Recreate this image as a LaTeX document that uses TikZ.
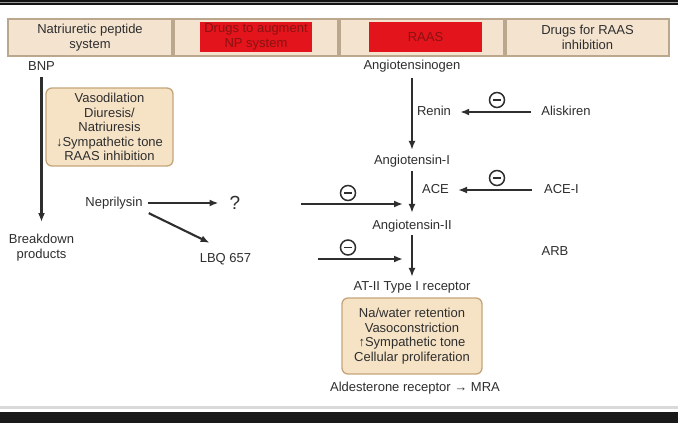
\documentclass[tikz,border=0pt]{standalone}
\usepackage{fontspec}
\setmainfont{Liberation Sans}
\usetikzlibrary{arrows.meta}
\definecolor{ink}{HTML}{2E2E2E}
\definecolor{hdrfill}{HTML}{F4E4CF}
\definecolor{hdrline}{HTML}{BBA78E}
\definecolor{boxfill}{HTML}{F6E3C6}
\definecolor{boxline}{HTML}{C4A57A}
\definecolor{redfill}{HTML}{E3141C}
\definecolor{redtext}{HTML}{8A1212}
\begin{document}
\begin{tikzpicture}[x=1pt,y=-1pt,
  every node/.style={text=ink, font=\fontsize{13}{14.5}\selectfont},
  lbl/.style={inner sep=0pt, text height=9.3pt, text depth=2.6pt},
  ml/.style={inner sep=0pt, align=center},
  hdr/.style={draw=hdrline, fill=hdrfill, line width=1.3pt, inner sep=0pt, align=center, minimum height=37pt},
  redbox/.style={fill=redfill, inner sep=0pt, align=center, minimum height=30pt, text=redtext},
  effbox/.style={draw=boxline, fill=boxfill, line width=1.3pt, rounded corners=6pt, inner sep=0pt, align=center},
  arr/.style={draw=ink, line width=2.1pt, -{Latex[length=9pt,width=7pt]}},
  inhib/.style={circle, draw=ink, line width=1.5pt, minimum size=15pt, inner sep=0pt,
    path picture={\draw[ink, line width=1.6pt] ([xshift=-3.8pt]path picture bounding box.center) -- ([xshift=3.8pt]path picture bounding box.center);}}
]
\useasboundingbox (0,0) rectangle (678,423);
\fill[white] (0,0) rectangle (678,423);
% frame
\fill[black!92] (0,0) rectangle (678,5);
\draw[black!40, line width=0.8pt] (0,2.6) -- (678,2.6);
\fill[black!15] (0,406) rectangle (678,409);
\fill[black!90] (0,412) rectangle (678,423);

% headers
\node[hdr, minimum width=164pt] (h1) at (90,37.5) {Natriuretic peptide\\system};
\node[hdr, minimum width=164pt] (h2) at (256,37.5) {};
\node[hdr, minimum width=164pt] (h3) at (422,37.5) {};
\node[hdr, minimum width=163pt] (h4) at (587.5,37.5) {Drugs for RAAS\\inhibition};
\node[redbox, minimum width=112pt] (r2) at (256,37) {Drugs to augment\\NP system};
\node[redbox, minimum width=113pt] (r3) at (425.5,37) {RAAS};

% natriuretic column
\node[lbl] (bnp) at (41.5,67) {BNP};
\node[ml, anchor=north] (bkd) at (41.5,234) {Breakdown\\products};
\draw[arr, shorten <=4pt, shorten >=12pt] (bnp.south) -- (bkd.north);
\node[effbox, minimum width=127pt, minimum height=78pt] (eff1) at (109.5,127) {Vasodilation\\Diuresis/\\Natriuresis\\↓Sympathetic tone\\RAAS inhibition};

\node[lbl] (nep) at (114,203) {Neprilysin};
\node[inner sep=0pt, font=\fontsize{19}{20}\selectfont] (q) at (235,203) {?};
\draw[arr, shorten <=5pt, shorten >=11pt] (nep.east) -- (q.west);
\node[lbl] (lbq) at (225.5,259) {LBQ 657};
\draw[arr] ([xshift=6pt,yshift=-4pt]nep.south east) -- ([xshift=10pt,yshift=10pt]lbq.north west);

% RAAS column
\node[lbl] (agen) at (412,66) {Angiotensinogen};
\node[lbl] (ang1) at (412,161) {Angiotensin-I};
\node[lbl] (ang2) at (412,226) {Angiotensin-II};
\node[lbl] (at1) at (412,287) {AT-II Type I receptor};
\draw[arr, shorten <=6pt, shorten >=5pt] (agen.south) -- (ang1.north);
\draw[arr, shorten <=4pt, shorten >=7pt] (ang1.south) -- (ang2.north);
\draw[arr, shorten <=3pt, shorten >=4pt] (ang2.south) -- (at1.north);

\node[lbl] (renin) at (434,112) {Renin};
\node[lbl] (ace) at (435.5,190) {ACE};
\node[lbl] (ali) at (566,112) {Aliskiren};
\node[lbl] (acei) at (561.5,190) {ACE-I};
\node[lbl] (arb) at (555,252) {ARB};
\draw[arr, shorten <=10pt, shorten >=9pt] (ali.west) -- (renin.east);
\draw[arr, shorten <=12pt, shorten >=9pt] (acei.west) -- (ace.east);
\node[inhib] (m1) at (497,100) {};
\node[inhib] (m2) at (497,178) {};

% inhibitor arrows into the RAAS axis
\coordinate (s1) at (301,204);
\coordinate (e1) at (403,204);
\coordinate (s2) at (318,259);
\coordinate (e2) at (403,259);
\draw[arr] (s1) -- (e1);
\draw[arr] (s2) -- (e2);
\node[inhib] (m3) at (348,193) {};
\node[inhib] (m4) at (348,247.5) {};

\node[effbox, minimum width=140pt, minimum height=76pt] (eff2) at (412,336) {Na/water retention\\Vasoconstriction\\↑Sympathetic tone\\Cellular proliferation};
\node[lbl] (ald) at (415,388) {Aldesterone receptor → MRA};
\end{tikzpicture}
\end{document}
